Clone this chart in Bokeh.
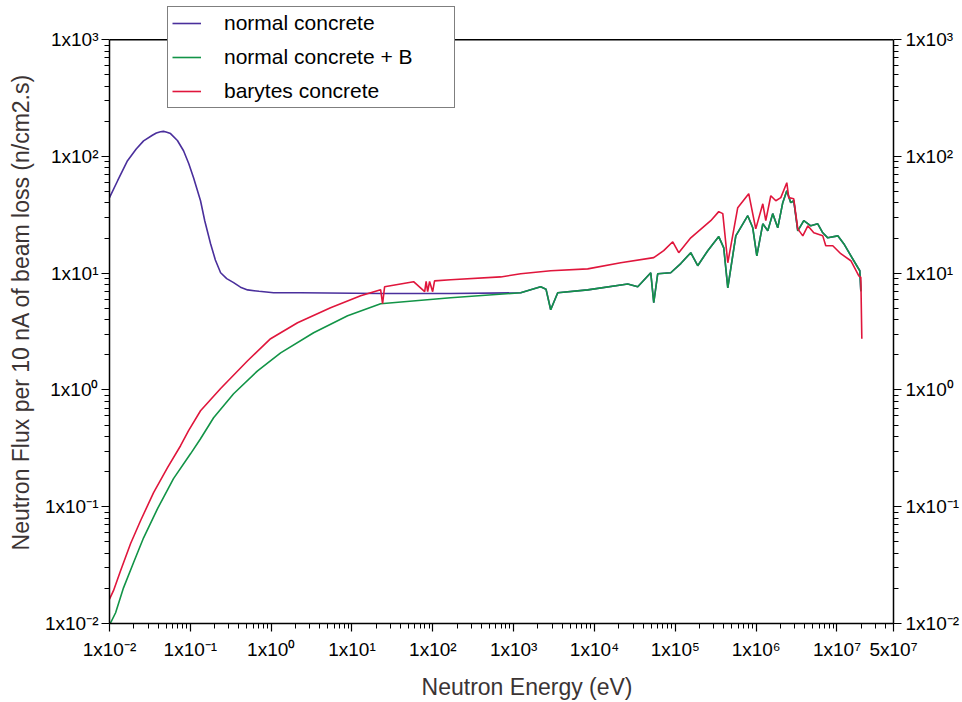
from bokeh.plotting import figure
from bokeh.models import (LogAxis, FixedTicker, CustomJSTickFormatter, Legend,
                          LegendItem, Range1d, Span)
from bokeh.embed import file_html
from bokeh.resources import INLINE

# ---------------- data ----------------
blue_low_E = [0.01, 0.0126, 0.0167, 0.0214, 0.0264, 0.0339, 0.0380, 0.0428, 0.0465,
              0.0501, 0.0569, 0.0692, 0.0824, 0.0955, 0.1096, 0.1337, 0.151, 0.178,
              0.204, 0.237, 0.282, 0.343, 0.417, 0.511, 0.708, 1.07, 2.31, 22.6,
              166, 1222]
blue_low_F = [44.4, 62, 92, 116, 136, 152, 159, 163, 164, 162, 157, 137, 112, 87,
              65.8, 41.8, 28, 17.9, 13, 10.1, 9.0, 8.3, 7.6, 7.2, 7.0, 6.8, 6.8,
              6.7, 6.7, 6.8]

green_E = [0.0100, 0.0119, 0.0149, 0.0198, 0.0264, 0.0393, 0.0619, 0.1005, 0.1337,
           0.194, 0.343, 0.679, 1.31, 3.35, 8.83, 22.6, 166, 1222, 2158, 2512, 2871,
           3508, 8241, 25760, 34280, 49660, 54080, 60530, 87700, 116700, 155200,
           189200, 251800, 344400, 397200, 445700, 559800, 787000, 907800, 1.019e6,
           1.208e6, 1.393e6, 1.603e6, 1.849e6, 2.133e6, 2.393e6, 2.679e6, 2.917e6,
           3.273e6, 3.882e6, 4.742e6, 5.781e6, 6.668e6, 7.691e6, 1.023e7, 1.213e7,
           1.614e7, 1.914e7, 1.972e7]
green_F = [0.0097, 0.01236, 0.0202, 0.0331, 0.0542, 0.0962, 0.174, 0.284, 0.382,
           0.578, 0.929, 1.46, 2.08, 3.09, 4.33, 5.48, 6.17, 6.8, 7.65, 7.3, 4.87,
           6.8, 7.2, 8.1, 7.65, 10.1, 5.6, 9.9, 10.1, 12.1, 15.0,
           11.6, 15.6, 20.6, 16.5, 7.5, 20.9, 31.1, 24.5, 14.1,
           26.5, 23.1, 32.4, 24.5, 40.2, 50.9, 40.2, 41.8,
           23.1, 28.2, 25.5, 26.5, 22.2, 20.1, 20.9, 17.9,
           12.8, 10.5, 7.0]

red_E = [0.0100, 0.0112, 0.0137, 0.0182, 0.0242, 0.0351, 0.0522, 0.0757, 0.0951,
         0.1337, 0.237, 0.511, 0.984, 2.12, 5.43, 12.8, 22.6, 23.9, 25.3, 57.8,
         79.3, 82.6, 86.3, 91.2, 99.5, 105, 166, 690, 1222, 2871, 8241, 21090,
         54080, 71780, 92900, 110200, 155200, 274200, 344400, 386400, 445700,
         591600, 809100, 988500, 1.208e6, 1.315e6, 1.517e6, 1.750e6, 2.018e6,
         2.393e6, 2.529e6, 2.917e6, 3.273e6, 3.776e6, 4.355e6, 5.164e6, 6.668e6,
         7.261e6, 8.872e6, 1.114e7, 1.483e7, 1.862e7, 1.972e7, 2.028e7]
red_F = [0.0162, 0.0191, 0.0283, 0.0482, 0.0759, 0.132, 0.216, 0.333, 0.448,
         0.664, 1.03, 1.78, 2.75, 3.77, 5.07, 6.41, 7.23, 5.48, 7.65, 8.46,
         6.95, 8.5, 6.95, 8.5, 6.95, 8.6, 8.8, 9.3, 9.9, 10.5, 10.9, 12.3,
         13.6, 15.6, 18.6, 15.0, 20.1, 28.2, 33.7, 32.4, 12.3,
         36.4, 48.0, 24.0, 39.3, 28.2, 46.1, 41.8, 44.4,
         59.6, 44.4, 43.4, 24.0, 20.9, 25.5, 22.2, 20.9,
         17.2, 17.2, 14.7, 12.8, 9.5, 9.2, 2.75]

# normal concrete coincides with "normal concrete + B" above ~2 keV
merge = [i for i, e in enumerate(green_E) if e > 2000]
blue_E = blue_low_E + [green_E[i] for i in merge]
blue_F = blue_low_F + [green_F[i] for i in merge]

series_labels = ["normal concrete", "normal concrete + B", "barytes concrete"]
series_colors = ["#4a2f9c", "#129447", "#e0163c"]

x_ticks = [1e-2, 1e-1, 1e0, 1e1, 1e2, 1e3, 1e4, 1e5, 1e6, 1e7, 5e7]
x_tick_labels = ["1x10⁻²", "1x10⁻¹", "1x10⁰", "1x10¹", "1x10²", "1x10³",
                 "1x10⁴", "1x10⁵", "1x10⁶", "1x10⁷", "5x10⁷"]
y_ticks = [1e-2, 1e-1, 1e0, 1e1, 1e2, 1e3]
y_tick_labels = ["1x10⁻²", "1x10⁻¹", "1x10⁰", "1x10¹", "1x10²", "1x10³"]

x_minor = [m * 10.0 ** k for k in range(-2, 7) for m in range(2, 10)] + [2e7, 3e7, 4e7]
y_minor = [m * 10.0 ** k for k in range(-2, 3) for m in range(2, 10)]

FONT = "Liberation Sans"
TITLE_COLOR = "#3b3434"

# The frame reaches the top of the canvas so that the legend (which sits over
# the top border of the plot box) is not clipped; the drawn axes stop at 1e3.
Y_TOP = 10 ** 3.336

p = figure(width=962, height=702, x_axis_type="log", y_axis_type="log",
           x_range=Range1d(1e-2, 5e7), y_range=Range1d(1e-2, Y_TOP),
           output_backend="svg", toolbar_location=None,
           min_border_left=109, min_border_right=69, min_border_top=0,
           min_border_bottom=79)
p.background_fill_color = "white"
p.border_fill_color = "white"
p.outline_line_color = None
p.xgrid.visible = False
p.ygrid.visible = False

code = """
let best = 0, bd = Infinity;
for (let i = 0; i < tks.length; i++) {
  const d = Math.abs(Math.log10(tick) - Math.log10(tks[i]));
  if (d < bd) { bd = d; best = i; }
}
return lbls[best];
"""
xfmt = CustomJSTickFormatter(args=dict(tks=x_ticks, lbls=x_tick_labels), code=code)
yfmt = CustomJSTickFormatter(args=dict(tks=y_ticks, lbls=y_tick_labels), code=code)

p.xaxis[0].ticker = FixedTicker(ticks=x_ticks, minor_ticks=x_minor)
p.xaxis[0].formatter = xfmt
p.yaxis[0].ticker = FixedTicker(ticks=y_ticks, minor_ticks=y_minor)
p.yaxis[0].formatter = yfmt
p.yaxis[0].bounds = (y_ticks[0], y_ticks[-1])

right = LogAxis(ticker=FixedTicker(ticks=y_ticks, minor_ticks=y_minor),
                formatter=yfmt, bounds=(y_ticks[0], y_ticks[-1]))
p.add_layout(right, "right")

for ax in [p.xaxis[0], p.yaxis[0], right]:
    ax.axis_line_color = "black"
    ax.axis_line_width = 1.5
    ax.major_tick_line_color = "black"
    ax.minor_tick_line_color = "black"
    ax.major_tick_line_width = 1.2
    ax.minor_tick_line_width = 1.0
    ax.major_tick_out = 8
    ax.major_tick_in = 0
    ax.minor_tick_out = 5
    ax.minor_tick_in = 0
    ax.major_label_text_font = FONT
    ax.major_label_text_font_size = "19px"
    ax.major_label_text_color = "black"

p.xaxis[0].major_label_standoff = 7
p.yaxis[0].major_label_standoff = 3
right.major_label_standoff = 4

p.yaxis[0].axis_label = "Neutron Flux per 10 nA of beam loss (n/cm2.s)"
p.xaxis[0].axis_label = "\u00a0" * 8 + "Neutron Energy (eV)"
for ax in [p.xaxis[0], p.yaxis[0]]:
    ax.axis_label_text_font = FONT
    ax.axis_label_text_font_size = "23px"
    ax.axis_label_text_font_style = "normal"
    ax.axis_label_text_color = TITLE_COLOR
p.yaxis[0].axis_label_standoff = 8
p.xaxis[0].axis_label_standoff = 11

# top border of the plot box
p.add_layout(Span(location=y_ticks[-1], dimension="width",
                  line_color="black", line_width=1.5))

rb = p.line(blue_E, blue_F, line_color=series_colors[0], line_width=1.6)
rg = p.line(green_E, green_F, line_color=series_colors[1], line_width=1.6)
rr = p.line(red_E, red_F, line_color=series_colors[2], line_width=1.6)

legend = Legend(items=[LegendItem(label=series_labels[0], renderers=[rb]),
                       LegendItem(label=series_labels[1], renderers=[rg]),
                       LegendItem(label=series_labels[2], renderers=[rr])],
                location=(58, 515), orientation="vertical",
                padding=4, spacing=10, margin=0,
                glyph_width=29, glyph_height=20, label_height=23,
                label_standoff=23, label_width=226,
                label_text_font=FONT, label_text_font_size="21px",
                label_text_color="black",
                border_line_color="black", border_line_width=1.5,
                background_fill_color="white", background_fill_alpha=1.0)
p.add_layout(legend)

open("out.html", "w").write(file_html(p, INLINE))
